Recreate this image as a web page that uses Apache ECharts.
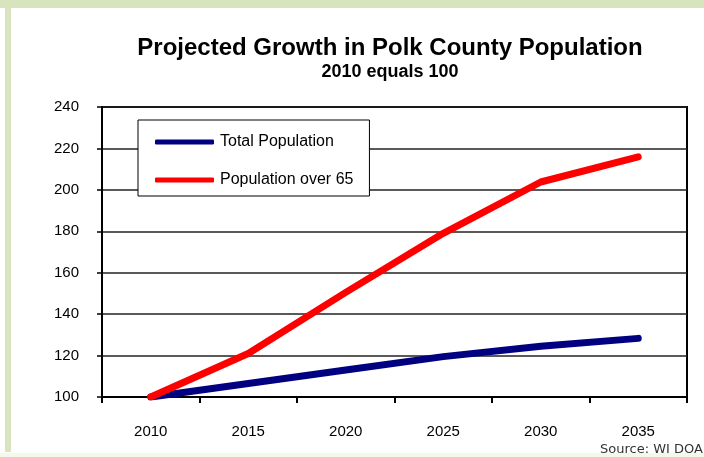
<!DOCTYPE html>
<html>
<head>
<meta charset="utf-8">
<script src="https://cdn.jsdelivr.net/npm/echarts@6/dist/echarts.min.js"></script>
<style>
html,body{margin:0;padding:0;background:#fff;}
#c{width:704px;height:457px;}
</style>
</head>
<body>
<div id="c"></div>
<script>
var years = ['2010', '2015', '2020', '2025', '2030', '2035'];
var totalPopulation = [100, 106.5, 113, 119.5, 124.5, 128.3];
var populationOver65 = [100, 121, 150.5, 179, 203.8, 215.9];
var seriesNames = ['Total Population', 'Population over 65'];

var chart = echarts.init(document.getElementById('c'));
var font = '"Liberation Sans", Arial, sans-serif';
chart.setOption({
  animation: false,
  backgroundColor: '#ffffff',
  title: {
    text: 'Projected Growth in Polk County Population',
    subtext: '2010 equals 100',
    left: 385,
    textAlign: 'center',
    top: 31,
    itemGap: 3,
    textStyle: {fontFamily: font, fontSize: 24, fontWeight: 'bold', color: '#000'},
    subtextStyle: {fontFamily: font, fontSize: 18, fontWeight: 'bold', color: '#000'}
  },
  legend: {
    data: seriesNames,
    orient: 'vertical',
    left: 138,
    top: 120,
    padding: [14, 16, 8, 17],
    itemGap: 22,
    itemWidth: 59,
    itemHeight: 5,
    icon: 'roundRect',
    borderColor: '#000',
    borderWidth: 1,
    backgroundColor: '#fff',
    textStyle: {fontFamily: font, fontSize: 16, color: '#000', padding: [0, 0, 0, 1]}
  },
  grid: {
    left: 102, right: 17, top: 107, bottom: 60,
    show: true, borderColor: '#000', borderWidth: 2
  },
  xAxis: {
    type: 'category',
    data: years,
    boundaryGap: true,
    axisLine: {lineStyle: {color: '#000', width: 2}},
    axisTick: {show: true, length: 6, lineStyle: {color: '#000', width: 2}},
    axisLabel: {fontFamily: font, fontSize: 15, color: '#000', margin: 27}
  },
  yAxis: {
    type: 'value',
    min: 100, max: 240, interval: 20,
    axisLine: {show: true, lineStyle: {color: '#000', width: 2}},
    axisTick: {show: true, length: 5, lineStyle: {color: '#000', width: 1.5}},
    axisLabel: {fontFamily: font, fontSize: 15, color: '#000', margin: 23},
    splitLine: {show: true, lineStyle: {color: '#222', width: 1.5}}
  },
  series: [
    {
      name: seriesNames[0], type: 'line', data: totalPopulation,
      symbol: 'none', color: '#000080',
      lineStyle: {width: 7, color: '#000080', cap: 'round', join: 'round'}
    },
    {
      name: seriesNames[1], type: 'line', data: populationOver65,
      symbol: 'none', color: '#ff0000',
      lineStyle: {width: 7, color: '#ff0000', cap: 'round', join: 'round'}
    }
  ],
  graphic: [
    {type: 'rect', left: 0, top: 0, shape: {width: 704, height: 8}, style: {fill: '#d7e4bd'}, silent: true},
    {type: 'rect', left: 5, top: 0, shape: {width: 6, height: 452}, style: {fill: '#d7e4bd'}, silent: true},
    {type: 'text', left: 600, top: 443, style: {text: 'Source: WI DOA', fontFamily: '"DejaVu Sans", Verdana, sans-serif', fontSize: 13, fill: '#333'}, z: 10},
    {type: 'rect', left: 0, top: 453, shape: {width: 704, height: 4}, style: {fill: '#f4f7ea'}, z: 11, silent: true}
  ]
});
</script>
</body>
</html>
